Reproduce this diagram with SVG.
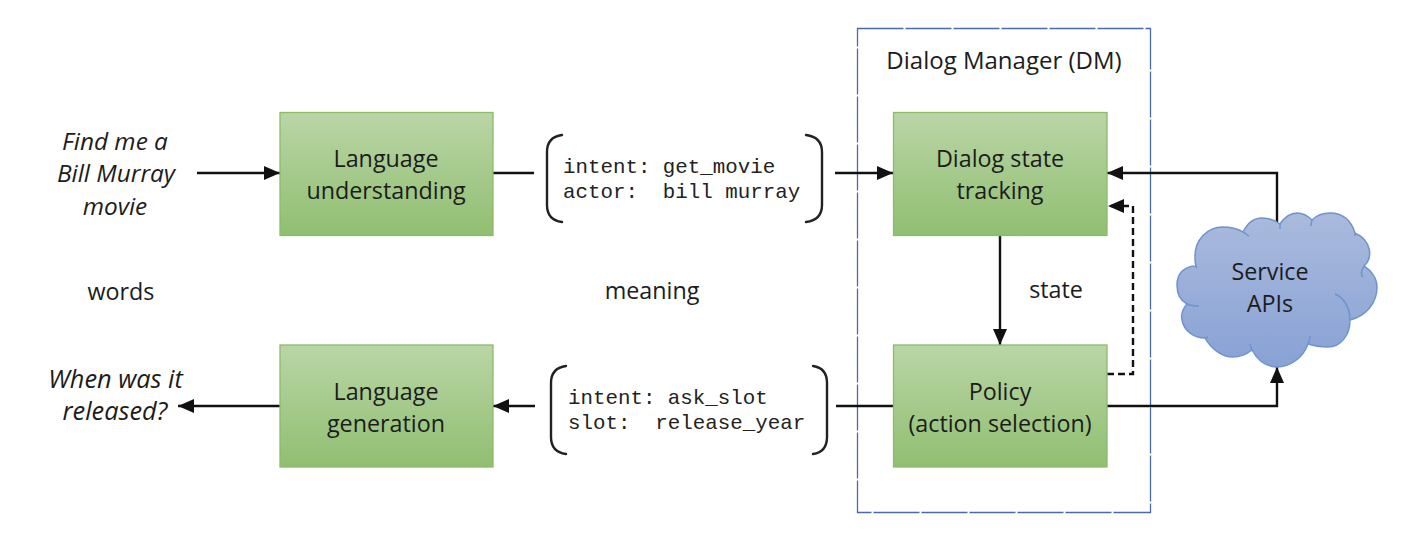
<svg xmlns="http://www.w3.org/2000/svg" width="1402" height="550" viewBox="0 0 1402 550">
<style>
text{font-family:"Open Sans","Noto Sans",sans-serif;font-size:23.3px;fill:#1c1c1c;text-anchor:middle}
.it{font-style:italic;font-size:24.4px}
.itl{font-style:italic;font-size:25.3px}
.dm{font-size:24px}
.mono{font-family:"Liberation Mono","DejaVu Sans Mono",monospace;font-size:20.8px;text-anchor:start;fill:#222;white-space:pre}
.box{fill:url(#g);stroke:#8cbb6a;stroke-width:1.3}
.c{fill:none;stroke:#111;stroke-width:2.4}
.a{marker-end:url(#arrow)}
.br{fill:none;stroke:#222;stroke-width:2.4;stroke-linecap:round}
.cl{fill:none;stroke:#6f93cf;stroke-width:1.5}
</style>
<defs>
<linearGradient id="g" x1="0" y1="0" x2="0" y2="1"><stop offset="0" stop-color="#bad5a6"/><stop offset="1" stop-color="#90bf71"/></linearGradient>
<linearGradient id="b" x1="0" y1="0" x2="0" y2="1"><stop offset="0" stop-color="#aabadd"/><stop offset="1" stop-color="#88a2d5"/></linearGradient>
<marker id="arrow" markerUnits="userSpaceOnUse" markerWidth="17" markerHeight="15" refX="16" refY="7" orient="auto"><path d="M0 0L16 7L0 14z" fill="#111"/></marker>
</defs>
<rect width="1402" height="550" fill="#fff"/>
<g id="dialog-manager">
<rect x="857.500" y="28.500" width="293" height="484" fill="none" stroke="#4a6aa8" stroke-width="1.300" stroke-dasharray="46 2"/>
<text class="dm" x="1004" y="69">Dialog Manager (DM)</text>
</g>
<g id="connectors">
<path class="c a" d="M197 173H280"/>
<path class="c" d="M493 173H534"/>
<path class="c a" d="M835 173H893"/>
<path class="c a" d="M1000 235V345"/>
<path class="c a" d="M1107 406H1277V367"/>
<path class="c a" d="M1277 222V173H1107"/>
<path class="c a" d="M1107 374H1133V206H1108" stroke-dasharray="7 4"/>
<path class="c" d="M893 406H836"/>
<path class="c a" d="M535 406H493"/>
<path class="c a" d="M280 406H178"/>
</g>
<g id="input-text">
<text class="it" x="115" y="149.500">Find me a</text>
<text class="it" x="116" y="182">Bill Murray</text>
<text class="it" x="115" y="214.500">movie</text>
</g>
<g id="output-text">
<text class="itl" x="115.500" y="388">When was it</text>
<text class="itl" x="115" y="420">released?</text>
</g>
<g id="label-words"><text x="121" y="300">words</text></g>
<g id="label-meaning"><text x="652" y="298.500">meaning</text></g>
<g id="label-state"><text x="1056" y="297.500">state</text></g>
<g id="language-understanding">
<rect class="box" x="280" y="112.500" width="213" height="123"/>
<text x="386" y="166.500">Language</text>
<text x="386" y="198.500">understanding</text>
</g>
<g id="dialog-state-tracking">
<rect class="box" x="893.500" y="112.500" width="213.500" height="123"/>
<text x="1000" y="166.500">Dialog state</text>
<text x="1000" y="198.500">tracking</text>
</g>
<g id="policy">
<rect class="box" x="893.500" y="345" width="213.500" height="122"/>
<text x="1000" y="399.500">Policy</text>
<text x="1000" y="431.500">(action selection)</text>
</g>
<g id="language-generation">
<rect class="box" x="280" y="345" width="213" height="122"/>
<text x="386" y="399.500">Language</text>
<text x="386" y="431.500">generation</text>
</g>
<g id="meaning-top">
<path class="br" d="M562 135Q547 137 547 152V205Q547 220 562 222M806 135Q822 137 822 152V205Q822 220 806 222"/>
<text class="mono" x="563" y="173" xml:space="preserve">intent: get_movie</text>
<text class="mono" x="563" y="198" xml:space="preserve">actor:  bill murray</text>
</g>
<g id="meaning-bottom">
<path class="br" d="M566 366Q551 368 551 383V437Q551 452 566 454M813 366Q827 368 827 383V437Q827 452 813 454"/>
<text class="mono" x="568" y="404" xml:space="preserve">intent: ask_slot</text>
<text class="mono" x="568" y="429" xml:space="preserve">slot:  release_year</text>
</g>
<g id="service-apis">
<path d="M1196 266C1184 266 1177 274 1177 285C1177 294 1181 301 1187 304C1182 310 1181 316 1182 320C1184 331 1194 338 1205 338C1211 349 1222 357 1233 357C1240 357 1247 354 1252 350C1258 361 1267 367 1277 367C1290 367 1303 358 1308 344C1314 346 1320 347 1328 347C1341 347 1350 335 1350 320C1366 316 1377 303 1377 287C1377 279 1372 271 1364 266C1373 258 1372 241 1355 233C1351 220 1342 213 1330 213C1323 213 1316 216 1312 220C1307 215 1302 213 1297 213C1290 213 1284 218 1280 224C1275 220 1268 218 1262 218C1253 218 1247 224 1243 232C1236 228 1230 227 1223 227C1207 227 1195 240 1195 256C1195 260 1195 263 1196 266Z" fill="url(#b)" stroke="#6f93cf" stroke-width="1.500"/>
<path class="cl" d="M1196 266C1196 267 1197 268 1197 268M1187 304C1191 306 1195 306 1199 306M1205 338C1207 338 1207 337 1208 337M1252 350C1251 348 1250 346 1250 344M1308 344C1309 342 1310 340 1310 336M1350 320C1350 307 1343 297 1335 294M1364 266C1362 270 1360 274 1363 277M1355 233C1355 235 1355 236 1355 236M1312 220C1311 224 1311 225 1311 226M1280 224C1280 227 1280 228 1280 229M1243 232C1245 233 1247 235 1249 236"/>
<text x="1270" y="279.500">Service</text>
<text x="1270" y="311.500">APIs</text>
</g>
</svg>
